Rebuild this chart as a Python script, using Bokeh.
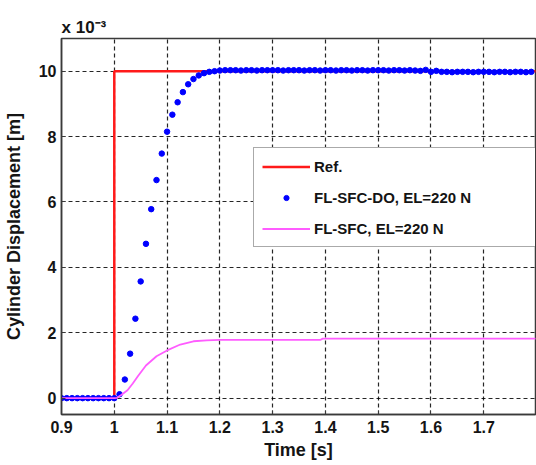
from bokeh.plotting import figure
from bokeh.models import Legend, LegendItem, FixedTicker, NumeralTickFormatter, Range1d, Title
from bokeh.embed import file_html
from bokeh.resources import INLINE

# ---- data (displacement in units of 1e-3 m) ----
ref_t = [0.90, 1.00, 1.00, 1.80]
ref_y = [0.0, 0.0, 10.0, 10.0]

do_t = [0.90, 0.91, 0.92, 0.93, 0.94, 0.95, 0.96, 0.97, 0.98, 0.99,
        1.00, 1.01, 1.02, 1.03, 1.04, 1.05, 1.06, 1.07, 1.08, 1.09,
        1.10, 1.11, 1.12, 1.13, 1.14, 1.15, 1.16, 1.17, 1.18, 1.19,
        1.20, 1.21, 1.22, 1.23, 1.24, 1.25, 1.26, 1.27, 1.28, 1.29,
        1.30, 1.31, 1.32, 1.33, 1.34, 1.35, 1.36, 1.37, 1.38, 1.39,
        1.40, 1.41, 1.42, 1.43, 1.44, 1.45, 1.46, 1.47, 1.48, 1.49,
        1.50, 1.51, 1.52, 1.53, 1.54, 1.55, 1.56, 1.57, 1.58, 1.59,
        1.60, 1.61, 1.62, 1.63, 1.64, 1.65, 1.66, 1.67, 1.68, 1.69,
        1.70, 1.71, 1.72, 1.73, 1.74, 1.75, 1.76, 1.77, 1.78, 1.79]
do_y = [0.0, 0.0, 0.0, 0.0, 0.0, 0.0, 0.0, 0.0, 0.0, 0.0,
        0.0, 0.12, 0.57, 1.36, 2.43, 3.57, 4.72, 5.78, 6.67, 7.48,
        8.15, 8.67, 9.05, 9.36, 9.60, 9.76, 9.87, 9.94, 9.98, 10.0,
        10.02, 10.03, 10.03, 10.03, 10.02, 10.03, 10.03, 10.02, 10.03, 10.03,
        10.03, 10.03, 10.02, 10.03, 10.03, 10.03, 10.02, 10.03, 10.03, 10.02,
        10.03, 10.03, 10.02, 10.03, 10.03, 10.02, 10.03, 10.03, 10.02, 10.03,
        10.03, 10.03, 10.02, 10.03, 10.03, 10.02, 10.03, 10.02, 10.01, 10.04,
        9.98, 10.01, 9.98, 9.98, 9.97, 9.98, 9.98, 9.98, 9.97, 9.98,
        9.98, 9.98, 9.97, 9.98, 9.98, 9.97, 9.98, 9.98, 9.97, 9.98]

sfc_t = [0.90, 1.00, 1.005, 1.0125, 1.025, 1.035, 1.045, 1.06, 1.08, 1.10,
         1.125, 1.15, 1.175, 1.20, 1.39, 1.395, 1.80]
sfc_y = [0.0, 0.0, 0.01, 0.09, 0.24, 0.45, 0.68, 1.0, 1.28, 1.46,
         1.64, 1.74, 1.77, 1.78, 1.78, 1.82, 1.82]

x_ticks = [0.9, 1.0, 1.1, 1.2, 1.3, 1.4, 1.5, 1.6, 1.7]
y_ticks = [0, 2, 4, 6, 8, 10]

labels = ["Ref.", "FL-SFC-DO, EL=220 N", "FL-SFC, EL=220 N"]
exponent_text = "x 10\u207b\u00b3"

FONT = "Liberation Sans"
TXT = "#141414"

p = figure(width=536, height=465, output_backend="svg", toolbar_location=None,
           x_range=Range1d(0.9, 1.798), y_range=Range1d(-0.5, 11),
           min_border_left=60, min_border_right=1, min_border_top=38,
           min_border_bottom=51)

p.title = Title(text=exponent_text, align="left", offset=0, standoff=4,
                text_font=FONT, text_font_style="bold", text_font_size="17px",
                text_color=TXT)

p.background_fill_color = "white"
p.border_fill_color = "white"
p.outline_line_color = "#3a3a3a"
p.outline_line_width = 1.5

r_ref = p.line(ref_t, ref_y, line_color="#ff1a1a", line_width=2.5)
r_do = p.scatter(do_t, do_y, size=5.5, fill_color="#0000ff", line_color="#0000ff")
r_sfc = p.line(sfc_t, sfc_y, line_color="#ff5cff", line_width=1.8)

for ax, ticks in ((p.xaxis[0], x_ticks), (p.yaxis[0], y_ticks)):
    ax.ticker = FixedTicker(ticks=ticks)
    ax.major_label_text_font = FONT
    ax.major_label_text_font_style = "bold"
    ax.major_label_text_font_size = "16px"
    ax.major_label_text_color = TXT
    ax.axis_label_text_font = FONT
    ax.axis_label_text_font_style = "bold"
    ax.axis_label_text_font_size = "18px"
    ax.axis_label_text_color = TXT
    ax.axis_line_color = "#3a3a3a"
    ax.axis_line_width = 1.5
    ax.major_tick_in = 4
    ax.major_tick_out = 0
    ax.major_tick_line_color = "#3a3a3a"
    ax.minor_tick_line_color = None

p.xaxis[0].formatter = NumeralTickFormatter(format="0.[0]")
p.xaxis[0].axis_label = "Time [s]"
p.xaxis[0].major_label_standoff = 6
p.xaxis[0].axis_label_standoff = 4
p.yaxis[0].axis_label = "Cylinder Displacement [m]"
p.yaxis[0].major_label_standoff = 5
p.yaxis[0].axis_label_standoff = 12

for g in (p.xgrid[0], p.ygrid[0]):
    g.grid_line_color = "black"
    g.grid_line_alpha = 0.85
    g.grid_line_dash = "4 3"
    g.grid_line_width = 1.2

legend = Legend(items=[LegendItem(label=labels[0], renderers=[r_ref]),
                       LegendItem(label=labels[1], renderers=[r_do]),
                       LegendItem(label=labels[2], renderers=[r_sfc])],
                location=(192, 167))
legend.label_text_font = FONT
legend.label_text_font_style = "bold"
legend.label_text_font_size = "15px"
legend.label_text_color = TXT
legend.glyph_width = 48
legend.glyph_height = 13
legend.label_height = 20
legend.label_width = 213
legend.label_standoff = 4
legend.spacing = 11
legend.padding = 8
legend.margin = 0
legend.border_line_color = "#555555"
legend.border_line_width = 1
legend.background_fill_color = "white"
legend.background_fill_alpha = 1.0
p.add_layout(legend)

open("out.html", "w").write(file_html(p, INLINE))
